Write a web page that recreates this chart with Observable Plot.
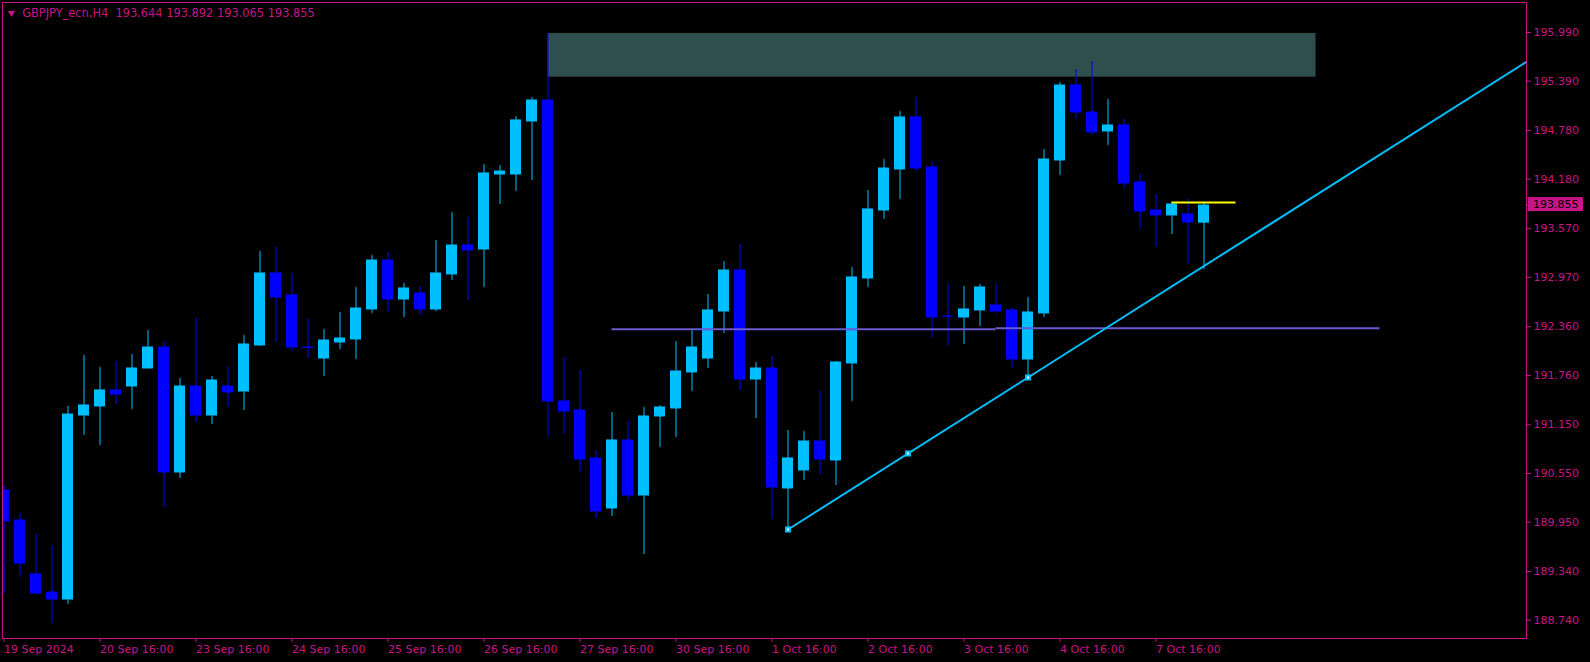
<!DOCTYPE html>
<html>
<head>
<meta charset="utf-8">
<script src="https://cdn.jsdelivr.net/npm/d3@7"></script>
<script src="https://cdn.jsdelivr.net/npm/@observablehq/plot@0.6"></script>
<style>
  html, body { margin: 0; padding: 0; background: #000; }
</style>
</head>
<body>
<div id="chart"></div>
<script>
// ---- data (GBPJPY_ecn, H4) ----
const symbolTitle = "GBPJPY_ecn,H4  193.644 193.892 193.065 193.855";

const open = [
  190.340, 189.970, 189.304, 189.081, 188.995, 191.265, 191.376, 191.574, 191.623, 191.845,
  192.104, 190.562, 191.623, 191.265, 191.623, 191.561, 192.129, 193.017, 192.746, 192.104,
  191.968, 192.166, 192.203, 192.573, 193.177, 192.696, 192.770, 192.573, 193.005, 193.362,
  193.313, 194.238, 194.238, 194.892, 195.151, 191.438, 191.327, 190.735, 190.118, 190.957,
  190.278, 191.253, 191.352, 191.796, 191.968, 192.548, 193.054, 191.709, 191.845, 190.365,
  190.587, 190.944, 190.710, 191.907, 192.955, 193.794, 194.300, 194.942, 194.325, 192.486,
  192.474, 192.561, 192.622, 192.561, 191.956, 192.524, 194.411, 195.336, 195.003, 194.769,
  194.843, 194.140, 193.794, 193.733, 193.745, 193.644
];
const high = [
  190.393, 190.056, 189.797, 189.661, 191.376, 192.005, 191.857, 191.931, 192.018, 192.314,
  192.178, 191.722, 192.462, 191.746, 191.857, 192.252, 193.288, 193.338, 193.017, 192.449,
  192.326, 192.536, 192.844, 193.239, 193.276, 192.894, 192.857, 193.424, 193.770, 193.708,
  194.362, 194.349, 194.954, 195.188, 195.978, 191.981, 191.820, 190.833, 191.302, 191.191,
  191.364, 191.389, 192.178, 192.326, 192.758, 193.165, 193.375, 191.919, 191.993, 191.080,
  191.068, 191.561, 191.930, 193.091, 194.041, 194.423, 195.016, 195.188, 194.399, 192.894,
  192.857, 192.881, 192.894, 192.585, 192.721, 194.547, 195.373, 195.534, 195.632, 195.164,
  194.917, 194.238, 193.992, 193.893, 193.930, 193.892
];
const low = [
  189.069, 189.270, 189.060, 188.699, 188.933, 191.018, 190.895, 191.401, 191.339, 191.840,
  190.130, 190.488, 191.179, 191.154, 191.364, 191.327, 192.120, 192.166, 192.055, 191.968,
  191.746, 192.079, 191.956, 192.524, 192.536, 192.474, 192.499, 192.548, 192.931, 192.684,
  192.844, 193.868, 194.029, 194.164, 190.994, 191.043, 190.562, 189.994, 190.019, 190.204,
  189.550, 190.870, 190.994, 191.561, 191.845, 192.277, 191.574, 191.228, 189.982, 189.859,
  190.463, 190.537, 190.402, 191.438, 192.844, 193.683, 193.930, 194.275, 192.227, 192.129,
  192.141, 192.363, 192.524, 191.845, 191.734, 192.474, 194.226, 194.917, 194.719, 194.596,
  194.053, 193.560, 193.338, 193.498, 193.128, 193.065
];
const close = [
  189.957, 189.439, 189.069, 188.995, 191.277, 191.389, 191.574, 191.524, 191.845, 192.104,
  190.562, 191.623, 191.265, 191.697, 191.549, 192.141, 193.017, 192.721, 192.104, 192.100,
  192.190, 192.215, 192.585, 193.177, 192.696, 192.832, 192.573, 193.017, 193.362, 193.301,
  194.251, 194.275, 194.905, 195.151, 191.438, 191.314, 190.722, 190.081, 190.957, 190.278,
  191.253, 191.364, 191.808, 192.104, 192.561, 193.054, 191.709, 191.845, 190.377, 190.735,
  190.944, 190.722, 191.919, 192.968, 193.807, 194.312, 194.942, 194.312, 192.474, 192.483,
  192.573, 192.844, 192.548, 191.956, 192.536, 194.423, 195.336, 195.003, 194.757, 194.843,
  194.127, 193.782, 193.733, 193.868, 193.646, 193.855
];

// x-axis tick positions (bar index) and labels
const xTickIndex = [0, 6, 12, 18, 24, 30, 36, 42, 48, 54, 60, 66, 72];
const xTickLabels = ["19 Sep 2024", "20 Sep 16:00", "23 Sep 16:00", "24 Sep 16:00", "25 Sep 16:00",
  "26 Sep 16:00", "27 Sep 16:00", "30 Sep 16:00", "1 Oct 16:00", "2 Oct 16:00",
  "3 Oct 16:00", "4 Oct 16:00", "7 Oct 16:00"];
// y-axis price ticks
const yTicks = [195.990, 195.390, 194.780, 194.180, 193.570, 192.970, 192.360,
  191.760, 191.150, 190.550, 189.950, 189.340, 188.740];

// visible window (bar index / price)
const xView = [-0.094, 95.156];
const yView = [188.514, 196.360];

// supply zone rectangle (bar index range, price range)
const zoneFrom = [34], zoneTo = [82], zoneLow = [195.439], zoneHigh = [195.978];
// horizontal level lines
const levelFrom = [38, 62], levelTo = [62, 86], levelPrice = [192.330, 192.342];
// trendline anchors (bar index, price)
const trendIdx = [49, 64], trendPrice = [189.859, 191.734];
// short yellow line at last high
const markFrom = [73], markTo = [77], markPrice = [193.892];
const lastPrice = 193.855;

// ---- build tables ----
const candles = open.map((o, i) => ({i, o, h: high[i], l: low[i], c: close[i]}));
const bull = "#00BFFF", bear = "#0000FF", axisColor = "#C71585";
const colorOf = d => d.c > d.o ? bull : bear;

const zone = zoneFrom.map((f, k) => ({from: f, to: zoneTo[k], lo: zoneLow[k], hi: zoneHigh[k]}));
const levels = levelFrom.map((f, k) => ({from: f, to: levelTo[k], p: levelPrice[k]}));
const marks2 = markFrom.map((f, k) => ({from: f, to: markTo[k], p: markPrice[k]}));

// trendline as a ray, extended to the right edge of the view
const slope = (trendPrice[1] - trendPrice[0]) / (trendIdx[1] - trendIdx[0]);
const trend = [
  {i: trendIdx[0], p: trendPrice[0]},
  {i: trendIdx[1], p: trendPrice[1]},
  {i: xView[1] + 1, p: trendPrice[0] + slope * (xView[1] + 1 - trendIdx[0])}
];
const handles = [
  {i: trendIdx[0], p: trendPrice[0]},
  {i: (trendIdx[0] + trendIdx[1]) / 2, p: (trendPrice[0] + trendPrice[1]) / 2},
  {i: trendIdx[1], p: trendPrice[1]}
];

function priceBox(index, scales, values, dimensions) {
  const y = scales.y(lastPrice);
  const x0 = dimensions.width - dimensions.marginRight + 2;
  const g = d3.create("svg:g");
  g.append("line").attr("x1", x0 - 2).attr("x2", x0 + 2).attr("y1", y).attr("y2", y)
    .attr("stroke", axisColor);
  g.append("rect").attr("x", x0).attr("y", y - 8).attr("width", 55).attr("height", 14)
    .attr("fill", axisColor);
  g.append("text").attr("x", x0 + 5).attr("y", y - 1).attr("dy", "0.35em")
    .attr("text-anchor", "start")
    .attr("fill", "#000").attr("font-size", 11).text(lastPrice.toFixed(3));
  return g.node();
}

const chart = Plot.plot({
  width: 1590,
  height: 662,
  marginLeft: 2,
  marginRight: 64,
  marginTop: 2,
  marginBottom: 24,
  style: {background: "#000", color: axisColor, fontFamily: "DejaVu Sans", fontSize: "11px"},
  x: {type: "linear", domain: xView, axis: null},
  y: {type: "linear", domain: yView, axis: null},
  marks: [
    Plot.rect(zone, {x1: "from", x2: "to", y1: "lo", y2: "hi", fill: "#2F4F4F", clip: true}),
    Plot.ruleX(candles, {x: "i", y1: "l", y2: "h", stroke: colorOf, strokeWidth: 1, clip: true}),
    Plot.rect(candles, {x1: d => d.i - 0.3125, x2: d => d.i + 0.3125, y1: "o", y2: "c",
      fill: colorOf, stroke: colorOf, strokeWidth: 1, clip: true}),
    Plot.ruleY(levels, {x1: "from", x2: "to", y: "p", stroke: "#6A5ACD", strokeWidth: 2, clip: true}),
    Plot.line(trend, {x: "i", y: "p", stroke: bull, strokeWidth: 2, clip: true}),
    Plot.dot(handles, {x: "i", y: "p", symbol: "square", r: 3.4, fill: bull}),
    Plot.dot(handles, {x: "i", y: "p", symbol: "square", r: 1.1, fill: "#fff"}),
    Plot.ruleY(marks2, {x1: "from", x2: "to", y: "p", stroke: "#FFFF00", strokeWidth: 2, clip: true}),
    Plot.frame({stroke: axisColor}),
    Plot.axisY(yTicks, {anchor: "right", tickSize: 4, tickPadding: 3,
      tickFormat: d => d.toFixed(3), fontSize: 11}),
    Plot.axisX(xTickIndex, {anchor: "bottom", tickSize: 4, tickPadding: 3, textAnchor: "start",
      tickFormat: d => xTickLabels[xTickIndex.indexOf(d)], fontSize: 11}),
    Plot.dot([symbolTitle], {frameAnchor: "top-left", dx: 9, dy: 10.5, symbol: "triangle2",
      rotate: 180, r: 3.4, fill: axisColor}),
    Plot.text([symbolTitle], {frameAnchor: "top-left", dx: 19.7, dy: 6.6, text: d => d,
      textAnchor: "start", lineAnchor: "top", fill: axisColor, fontSize: 11.4}),
    priceBox
  ]
});
document.getElementById("chart").appendChild(chart);
</script>
</body>
</html>
